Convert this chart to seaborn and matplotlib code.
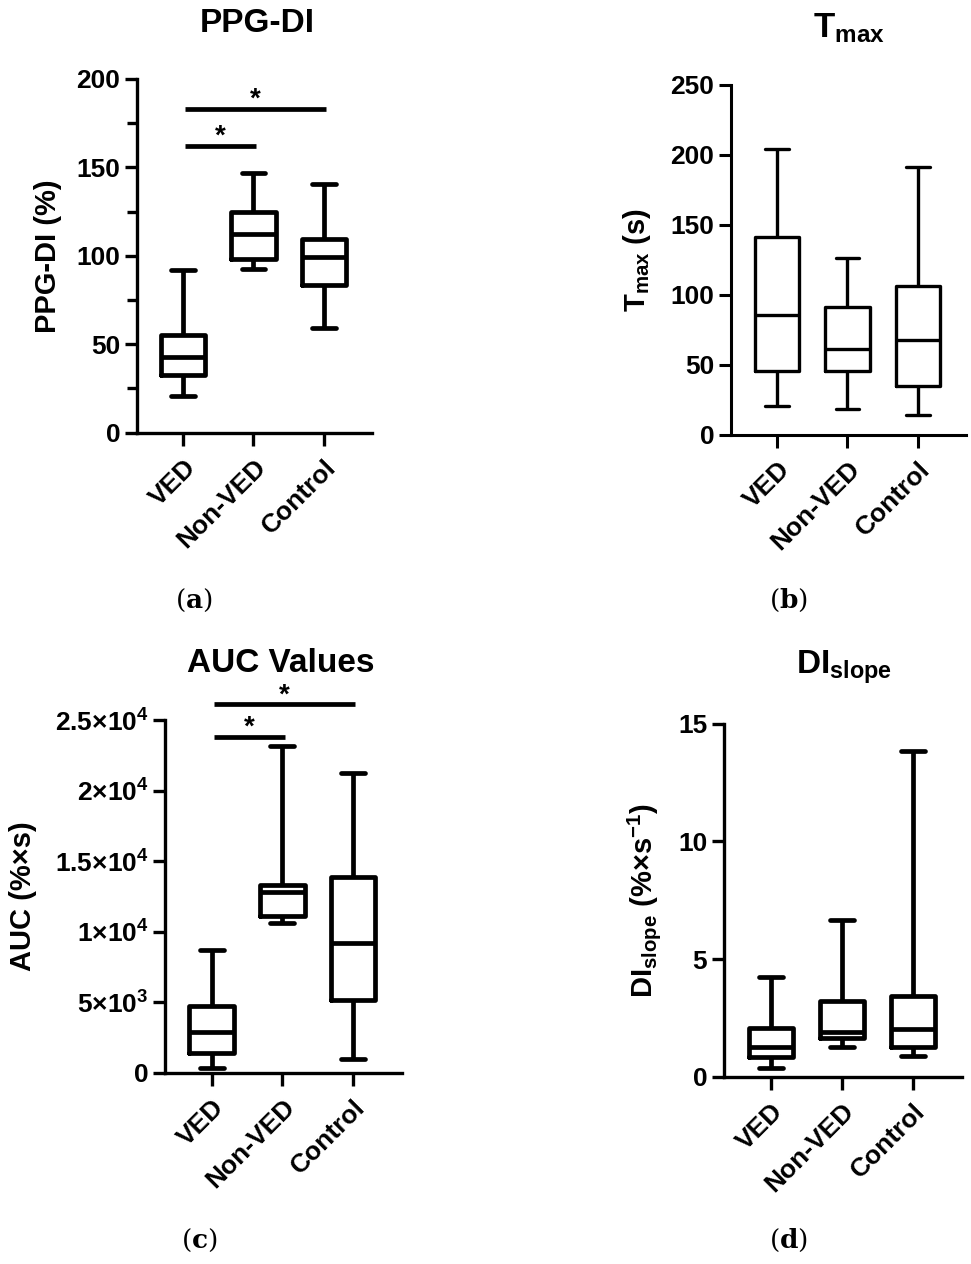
import numpy as np
import pandas as pd
import matplotlib
matplotlib.use('Agg')
import matplotlib.pyplot as plt
import seaborn as sns

groups = ['VED', 'Non-VED', 'Control']

# five-number summaries: min, Q1, median, Q3, max
ppg_ved = [20.9, 32.6, 42.7, 55.0, 91.7]
ppg_nonved = [92.6, 98.4, 112.4, 124.7, 146.7]
ppg_control = [58.9, 83.6, 99.3, 109.7, 140.7]

tmax_ved = [20.7, 45.5, 85.8, 141.5, 204.5]
tmax_nonved = [18.5, 45.5, 61.1, 90.9, 126.4]
tmax_control = [13.9, 34.9, 67.3, 106.5, 191.2]

auc_ved = [374, 1440, 2880, 4752, 8698]
auc_nonved = [10656, 11088, 12817, 13306, 23127]
auc_control = [1008, 5184, 9216, 13882, 21256]

slope_ved = [0.38, 0.86, 1.29, 2.10, 4.26]
slope_nonved = [1.29, 1.64, 1.90, 3.24, 6.67]
slope_control = [0.90, 1.29, 2.03, 3.45, 13.83]

# significance brackets: (from group, to group, height)
ppg_sig = [(0, 1, 162), (0, 2, 183)]
auc_sig = [(0, 1, 23800), (0, 2, 26100)]

auc_ticks = [0, 5000, 10000, 15000, 20000, 25000]
auc_tick_labels = ['0', r'$\mathbf{5{\times}10^{3}}$', r'$\mathbf{1{\times}10^{4}}$',
                   r'$\mathbf{1.5{\times}10^{4}}$', r'$\mathbf{2{\times}10^{4}}$',
                   r'$\mathbf{2.5{\times}10^{4}}$']

sns.set_style('ticks')
plt.rcParams['font.family'] = ['Liberation Sans', 'DejaVu Sans']
plt.rcParams['font.weight'] = 'bold'
plt.rcParams['axes.labelweight'] = 'bold'
plt.rcParams['mathtext.fontset'] = 'custom'
plt.rcParams['mathtext.rm'] = 'Liberation Sans:bold'
plt.rcParams['mathtext.bf'] = 'Liberation Sans:bold'
plt.rcParams['mathtext.it'] = 'Liberation Sans:bold'
for key in ['text.color', 'axes.labelcolor', 'xtick.color', 'ytick.color', 'axes.edgecolor']:
    plt.rcParams[key] = 'black'

W, H = 971, 1264
fig = plt.figure(figsize=(W / 100, H / 100), dpi=100)


def axes_px(left, right, top, bottom):
    return fig.add_axes([left / W, 1 - bottom / H, (right - left) / W, (bottom - top) / H])


def long_df(ved, nonved, control):
    return pd.DataFrame({'group': np.repeat(groups, 5),
                         'value': np.concatenate([ved, nonved, control])})


def draw_panel(ax, df, lw, spine_lw, ylim, yticks):
    sns.boxplot(data=df, x='group', y='value', order=groups, whis=(0, 100),
                width=0.63, fill=False, color='black', linewidth=lw,
                showfliers=False, capwidths=0.34, ax=ax)
    sns.despine(ax=ax)
    for s in ['left', 'bottom']:
        ax.spines[s].set_linewidth(spine_lw)
    ax.set_xlim(-0.66, 2.69)
    ax.set_ylim(*ylim)
    ax.set_yticks(yticks)
    ax.set_xlabel('')
    ax.tick_params(axis='both', width=spine_lw, length=9, labelsize=19, pad=3)
    ax.tick_params(axis='x', pad=7)
    ax.set_xticks(range(3))
    ax.set_xticklabels(groups, rotation=45, ha='right', rotation_mode='anchor', fontsize=19)


def draw_sig(ax, sig, lw, star_offset):
    for a, b, h in sig:
        ax.plot([a + 0.03, b + 0.03], [h, h], color='black', lw=lw,
                solid_capstyle='butt', clip_on=False)
        ax.text((a + b) / 2 + 0.03, h + star_offset, '*', ha='center', va='center',
                fontsize=20, clip_on=False)


# (a) PPG-DI
ax_a = axes_px(137, 372, 79, 432.5)
draw_panel(ax_a, long_df(ppg_ved, ppg_nonved, ppg_control), 3.4, 2.4, (0, 200),
           [0, 50, 100, 150, 200])
ax_a.set_yticks([25, 75, 125, 175], minor=True)
ax_a.tick_params(axis='y', which='minor', width=2.4, length=7)
ax_a.set_ylabel('PPG-DI (%)', fontsize=21)
ax_a.yaxis.set_label_coords(-0.319, 0.5)
draw_sig(ax_a, ppg_sig, 3.4, 5.5)

# (b) Tmax
ax_b = axes_px(731, 966, 85, 434.5)
draw_panel(ax_b, long_df(tmax_ved, tmax_nonved, tmax_control), 2.4, 2.2, (0, 250),
           [0, 50, 100, 150, 200, 250])
ax_b.set_ylabel(r'T$_{\mathbf{max}}$ (s)', fontsize=21)
ax_b.yaxis.set_label_coords(-0.332, 0.5)

# (c) AUC
ax_c = axes_px(165, 402, 720, 1073)
draw_panel(ax_c, long_df(auc_ved, auc_nonved, auc_control), 3.4, 2.4, (0, 25000),
           auc_ticks)
ax_c.set_yticklabels(auc_tick_labels)
ax_c.set_ylabel('AUC (%×s)', fontsize=21)
ax_c.yaxis.set_label_coords(-0.54, 0.5)
draw_sig(ax_c, auc_sig, 3.4, 650)

# (d) DI slope
ax_d = axes_px(724, 962, 723.5, 1077)
draw_panel(ax_d, long_df(slope_ved, slope_nonved, slope_control), 3.4, 2.4, (0, 15),
           [0, 5, 10, 15])
ax_d.set_ylabel(r'DI$_{\mathbf{slope}}$ (%×s$^{\mathbf{-1}}$)', fontsize=21)
ax_d.yaxis.set_label_coords(-0.256, 0.5)

# titles
fig.text(257 / W, 1 - 24 / H, 'PPG-DI', ha='center', va='center', fontsize=24)
fig.text(849 / W, 1 - 28 / H, r'T$_{\mathbf{max}}$', ha='center', va='center', fontsize=25)
fig.text(281 / W, 1 - 664 / H, 'AUC Values', ha='center', va='center', fontsize=24)
fig.text(844 / W, 1 - 667 / H, r'DI$_{\mathbf{slope}}$', ha='center', va='center', fontsize=24)

# panel letters
for x, y, letter in [(194, 600, 'a'), (788, 600, 'b'), (199, 1240, 'c'), (788, 1240, 'd')]:
    fig.text(x / W, 1 - y / H, '(' + r'$\mathbf{' + letter + '}$' + ')', ha='center',
             va='center', fontsize=19, family='DejaVu Serif', fontweight='normal',
             math_fontfamily='dejavuserif')

fig.savefig('out.png', dpi=100)
